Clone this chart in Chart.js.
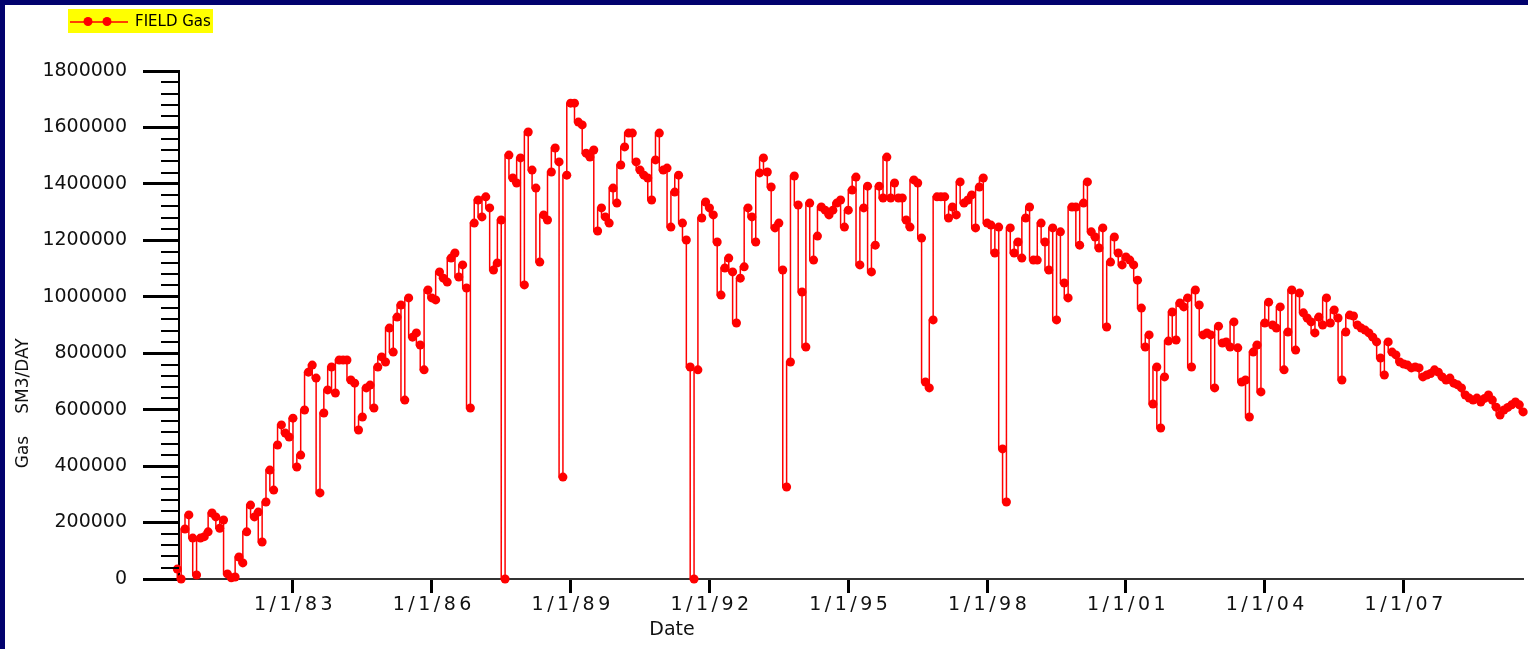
<!DOCTYPE html>
<html><head><meta charset="utf-8">
<script src="https://cdn.jsdelivr.net/npm/chart.js@4/dist/chart.umd.min.js"></script>
<style>
html,body{margin:0;padding:0;background:#02026e;width:1528px;height:649px;overflow:hidden;}
#panel{position:absolute;left:5px;top:5px;width:1523px;height:644px;background:#fff;}
#wrap{position:absolute;left:0;top:0;width:1528px;height:649px;}
</style></head><body>
<div id="panel"></div>
<div id="wrap"><canvas id="c" width="1528" height="649"></canvas></div>
<script>
// Monthly FIELD Gas rate (SM3/DAY), first month = July 1980
const startYear = 1980, startMonth = 7;
const gas1980to1985 = [35000, 0, 177000, 227000, 145000, 14000, 145000, 150000, 167000, 234000, 220000, 180000, 209000, 18000, 4000, 7000, 78000, 57000, 167000, 262000, 220000, 237000, 131000, 273000, 386000, 315000, 475000, 546000, 517000, 503000, 570000, 397000, 439000, 599000, 733000, 758000, 712000, 305000, 588000, 670000, 751000, 659000, 776000, 776000, 776000, 705000, 694000, 528000, 574000, 677000, 687000, 606000, 751000, 787000, 769000];
const gas1985to1987 = [889000, 804000, 928000, 971000, 634000, 996000, 857000, 872000, 829000, 741000, 1024000, 996000, 989000, 1088000, 1066000, 1052000, 1137000, 1155000, 1070000, 1113000, 1031000, 606000, 1261000, 1343000, 1283000, 1354000, 1315000, 1095000, 1120000, 1272000, 0];
const gas1987to1991 = [1502000, 1421000, 1403000, 1492000, 1042000, 1584000, 1449000, 1385000, 1123000, 1290000, 1272000, 1442000, 1527000, 1478000, 361000, 1431000, 1686000, 1686000, 1619000, 1609000, 1509000, 1495000, 1520000, 1233000, 1315000, 1283000, 1261000, 1385000, 1332000, 1467000, 1531000, 1580000, 1580000, 1478000, 1449000, 1431000, 1421000, 1343000, 1485000, 1580000, 1449000, 1456000, 1247000, 1371000, 1431000, 1261000, 1201000, 751000, 0, 741000];
const gas1991to1998 = [1279000, 1336000, 1315000, 1290000, 1194000, 1006000, 1102000, 1137000, 1088000, 907000, 1066000, 1106000, 1315000, 1283000, 1194000, 1439000, 1492000, 1442000, 1389000, 1244000, 1261000, 1095000, 326000, 769000, 1428000, 1325000, 1017000, 822000, 1332000, 1130000, 1215000, 1318000, 1307000, 1290000, 1307000, 1332000, 1343000, 1247000, 1307000, 1378000, 1424000, 1113000, 1315000, 1392000, 1088000, 1183000, 1392000, 1350000, 1495000, 1350000, 1403000, 1350000, 1350000, 1272000, 1247000, 1414000, 1403000, 1208000, 698000, 677000, 918000, 1354000, 1354000, 1354000, 1279000, 1318000, 1290000, 1407000, 1332000, 1343000, 1361000, 1244000, 1389000, 1421000, 1261000, 1254000, 1155000, 1247000, 461000, 273000];
const gas1998to2001 = [1244000, 1155000, 1194000, 1137000, 1279000, 1318000, 1130000, 1130000, 1261000, 1194000, 1095000, 1244000, 918000, 1230000, 1049000, 996000, 1318000, 1318000, 1183000, 1332000, 1407000, 1230000, 1212000, 1173000, 1244000, 893000, 1123000, 1212000, 1155000, 1113000, 1141000, 1130000, 1113000, 1059000, 960000, 822000, 865000, 620000, 751000, 535000];
const gas2001to2009 = [716000, 843000, 946000, 847000, 978000, 964000, 996000, 751000, 1024000, 971000, 865000, 872000, 865000, 677000, 896000, 836000, 840000, 822000, 911000, 819000, 698000, 705000, 574000, 804000, 829000, 663000, 907000, 981000, 900000, 889000, 964000, 741000, 875000, 1024000, 811000, 1013000, 943000, 925000, 911000, 872000, 928000, 900000, 996000, 907000, 953000, 925000, 705000, 875000, 935000, 932000, 900000, 889000, 882000, 872000, 857000, 840000, 783000, 723000, 840000, 804000, 794000, 769000, 762000, 758000, 748000, 751000, 748000, 716000, 723000, 728000, 741000, 733000, 716000, 705000, 712000, 694000, 688000, 677000, 652000, 641000, 634000, 641000, 627000, 640000, 652000, 634000, 609000, 581000, 599000, 608000, 617000, 627000, 617000, 592000];

const xTickYears = [1983, 1986, 1989, 1992, 1995, 1998, 2001, 2004, 2007];
const xTickLabels = ['1/1/83', '1/1/86', '1/1/89', '1/1/92', '1/1/95', '1/1/98', '1/1/01', '1/1/04', '1/1/07'];
const yTickValues = [0, 200000, 400000, 600000, 800000, 1000000, 1200000, 1400000, 1600000, 1800000];
const seriesName = 'FIELD Gas';

const gasValues = [].concat(gas1980to1985, gas1985to1987, gas1987to1991, gas1991to1998, gas1998to2001, gas2001to2009);
const points = gasValues.map((v, i) => ({ x: startYear + (startMonth - 1 + i) / 12, y: v }));

const RED = '#ff0000';
const FONT = 'DejaVu Sans';

const decor = {
  id: 'decor',
  afterDraw(chart) {
    const ctx = chart.ctx;
    const xs = chart.scales.x, ys = chart.scales.y;
    ctx.save();
    // minor y ticks
    ctx.strokeStyle = '#000';
    ctx.lineWidth = 2;
    for (let v = 40000; v < 1800000; v += 40000) {
      if (v % 200000 === 0) continue;
      const py = Math.round(ys.getPixelForValue(v));
      ctx.beginPath();
      ctx.moveTo(xs.left - 18, py);
      ctx.lineTo(xs.left, py);
      ctx.stroke();
    }
    // x tick labels
    ctx.fillStyle = '#111';
    ctx.font = '19px "' + FONT + '"';
    ctx.textBaseline = 'middle';
    ctx.textAlign = 'center';
    try { ctx.letterSpacing = '3.5px'; } catch (e) {}
    xTickYears.forEach((yr, i) => {
      ctx.fillText(xTickLabels[i], xs.getPixelForValue(yr) + 2, 605);
    });
    try { ctx.letterSpacing = '0px'; } catch (e) {}
    // x title
    ctx.fillText('Date', 672, 630);
    // y title
    ctx.save();
    ctx.translate(24, 0);
    ctx.rotate(-Math.PI / 2);
    ctx.font = '17px "' + FONT + '"';
    ctx.fillText('SM3/DAY', -376, 0);
    ctx.fillText('Gas', -452, 0);
    ctx.restore();
    // legend
    ctx.fillStyle = '#ffff00';
    ctx.fillRect(68, 9, 145, 24);
    ctx.strokeStyle = RED;
    ctx.lineWidth = 1.5;
    ctx.beginPath();
    ctx.moveTo(70, 22);
    ctx.lineTo(128, 22);
    ctx.stroke();
    ctx.fillStyle = RED;
    [88, 107].forEach(cx => {
      ctx.beginPath();
      ctx.arc(cx, 21.5, 4.5, 0, Math.PI * 2);
      ctx.fill();
    });
    ctx.fillStyle = '#000';
    ctx.font = '15px "' + FONT + '"';
    ctx.textAlign = 'left';
    ctx.fillText(seriesName, 135, 22);
    ctx.restore();
  }
};

new Chart(document.getElementById('c'), {
  type: 'line',
  data: {
    datasets: [{
      label: seriesName,
      data: points,
      stepped: 'after',
      borderColor: RED,
      borderWidth: 1.5,
      backgroundColor: RED,
      pointRadius: 4.5,
      pointBackgroundColor: RED,
      pointBorderColor: RED,
      pointBorderWidth: 0,
      clip: false,
      fill: false
    }]
  },
  options: {
    responsive: false,
    animation: false,
    devicePixelRatio: 1,
    layout: { padding: { top: 71, left: 0, right: 4, bottom: 0 } },
    plugins: { legend: { display: false }, tooltip: { enabled: false } },
    scales: {
      x: {
        type: 'linear',
        min: 1980.537,
        max: 2009.59,
        afterBuildTicks: s => { s.ticks = xTickYears.map(v => ({ value: v })); },
        afterFit: s => { s.height = 70; },
        grid: { drawOnChartArea: false, drawTicks: true, tickLength: 14, tickWidth: 3, tickColor: '#000' },
        border: { display: true, color: '#333', width: 2 },
        ticks: { display: false }
      },
      y: {
        min: 0,
        max: 1800000,
        afterBuildTicks: s => { s.ticks = yTickValues.map(v => ({ value: v })); },
        afterFit: s => { s.width = 179; },
        grid: { drawOnChartArea: false, drawTicks: true, tickLength: 36, tickWidth: 3, tickColor: '#000' },
        border: { display: true, color: '#000', width: 2 },
        ticks: { padding: 16, color: '#111', font: { family: FONT, size: 19 }, callback: v => String(v) }
      }
    }
  },
  plugins: [decor]
});
</script>
</body></html>
